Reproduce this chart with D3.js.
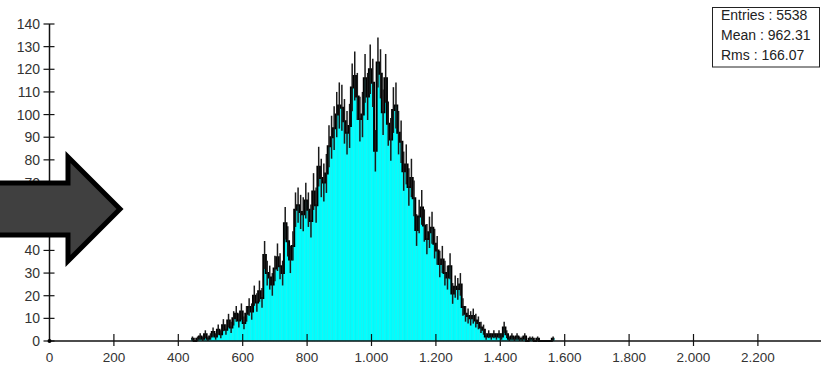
<!DOCTYPE html>
<html>
<head>
<meta charset="utf-8">
<script src="https://cdn.jsdelivr.net/npm/d3@7"></script>
<style>
  body { margin: 0; background: #fff; }
  svg { display: block; font-family: "Liberation Sans", Arial, sans-serif; }
</style>
</head>
<body>
<svg id="chart" width="821" height="365"></svg>
<script>
// Histogram: bins of width 8 starting at 440
const binStart = 440;
const binWidth = 8;
const counts = [
  1, 0, 1, 2, 1, 3, 1, 2, 4, 2, 5, 3,
  7, 5, 9, 6, 10, 12, 9, 13, 8, 12, 15, 13,
  20, 17, 22, 19, 38, 30, 28, 25, 32, 37, 33, 30,
  52, 44, 36, 42, 58, 60, 57, 56, 62, 58, 53, 66,
  60, 77, 72, 70, 74, 86, 90, 94, 100, 104, 103, 97,
  92, 95, 112, 117, 108, 98, 100, 116, 108, 120, 114, 84,
  123, 118, 101, 116, 96, 89, 102, 104, 92, 88, 75, 78,
  68, 72, 63, 49, 55, 59, 51, 45, 48, 50, 43, 40,
  34, 36, 30, 28, 33, 21, 24, 23, 25, 15, 12, 11,
  10, 11, 9, 8, 6, 5, 2, 3, 2, 3, 2, 3,
  2, 6, 3, 1, 2, 1, 2, 1, 1, 2, 0, 1,
  1, 0, 1, 0, 0, 0, 0, 0, 1
];
const xTicks = [0, 200, 400, 600, 800, 1000, 1200, 1400, 1600, 1800, 2000, 2200];
const yTicks = [0, 10, 20, 30, 40, 50, 60, 70, 80, 90, 100, 110, 120, 130, 140];
const statLines = ["Entries : 5538", "Mean : 962.31", "Rms : 166.07"];

const svg = d3.select("#chart");

const x = d3.scaleLinear().domain([0, 2400]).range([49.5, 822.3]);
const y = d3.scaleLinear().domain([0, 140]).range([341, 24]);

const fmt = d3.formatLocale({ decimal: ",", thousands: ".", grouping: [3], currency: ["", ""] }).format(",");

const bins = counts.map((n, i) => ({
  x0: binStart + i * binWidth,
  x1: binStart + (i + 1) * binWidth,
  n
}));

// filled bars
svg.append("g")
  .selectAll("rect")
  .data(bins.filter(b => b.n > 0))
  .join("rect")
  .attr("x", d => x(d.x0))
  .attr("y", d => y(d.n))
  .attr("width", d => x(d.x1) - x(d.x0))
  .attr("height", d => y(0) - y(d.n))
  .attr("fill", "#00ffff")
  .attr("stroke", "#12e6e6")
  .attr("stroke-width", 0.4);

// step outline
const stepPts = bins.map(b => [b.x0, b.n]);
stepPts.push([bins[bins.length - 1].x1, bins[bins.length - 1].n]);
svg.append("path")
  .attr("d", d3.line().x(d => x(d[0])).y(d => y(d[1])).curve(d3.curveStepAfter)(stepPts))
  .attr("fill", "none")
  .attr("stroke", "#000")
  .attr("stroke-width", 2);

// error bars (sqrt N)
svg.append("g")
  .selectAll("line")
  .data(bins.filter(b => b.n > 0))
  .join("line")
  .attr("x1", d => x((d.x0 + d.x1) / 2))
  .attr("x2", d => x((d.x0 + d.x1) / 2))
  .attr("y1", d => y(Math.max(0, d.n - Math.sqrt(d.n))))
  .attr("y2", d => y(d.n + Math.sqrt(d.n)))
  .attr("stroke", "#1a1a1a")
  .attr("stroke-width", 1.5);

// axes
const axes = svg.append("g").attr("stroke", "#111");
axes.append("line")
  .attr("x1", x(0)).attr("x2", 821)
  .attr("y1", y(0)).attr("y2", y(0))
  .attr("stroke-width", 1.5);
axes.append("line")
  .attr("x1", x(0)).attr("x2", x(0))
  .attr("y1", y(0)).attr("y2", y(140))
  .attr("stroke-width", 1.5);

axes.selectAll(".yt")
  .data(yTicks)
  .join("line")
  .attr("class", "yt")
  .attr("x1", x(0) - 6).attr("x2", x(0) + 5)
  .attr("y1", d => y(d)).attr("y2", d => y(d))
  .attr("stroke-width", 1.2);

axes.selectAll(".xt")
  .data(xTicks.slice(1))
  .join("line")
  .attr("class", "xt")
  .attr("x1", d => x(d)).attr("x2", d => x(d))
  .attr("y1", y(0) - 7).attr("y2", y(0) + 5)
  .attr("stroke-width", 1.2);

svg.append("circle")
  .attr("cx", x(0)).attr("cy", y(0)).attr("r", 2).attr("fill", "#000");

svg.append("g")
  .selectAll("text")
  .data(yTicks)
  .join("text")
  .attr("x", 40)
  .attr("y", d => y(d) + 5)
  .attr("text-anchor", "end")
  .attr("font-size", 14)
  .attr("fill", "#333")
  .text(d => d);

svg.append("g")
  .selectAll("text")
  .data(xTicks)
  .join("text")
  .attr("x", d => x(d))
  .attr("y", 362)
  .attr("text-anchor", "middle")
  .attr("font-size", 13.5)
  .attr("fill", "#333")
  .text(d => fmt(d));

// statistics box
const box = svg.append("g");
box.append("rect")
  .attr("x", 712.5).attr("y", 7.5)
  .attr("width", 107).attr("height", 59.5)
  .attr("fill", "#fff")
  .attr("stroke", "#222")
  .attr("stroke-width", 1);
box.selectAll("text")
  .data(statLines)
  .join("text")
  .attr("x", 721)
  .attr("y", (d, i) => 20 + i * 20)
  .attr("font-size", 14)
  .attr("fill", "#222")
  .text(d => d);

// pointer arrow
svg.append("path")
  .attr("d", d3.line()([[-6, 183], [68, 183], [68, 157], [120, 209], [68, 261], [68, 235], [-6, 235]]) + "Z")
  .attr("fill", "#404040")
  .attr("stroke", "#000")
  .attr("stroke-width", 5)
  .attr("stroke-linejoin", "miter");
</script>
</body>
</html>
